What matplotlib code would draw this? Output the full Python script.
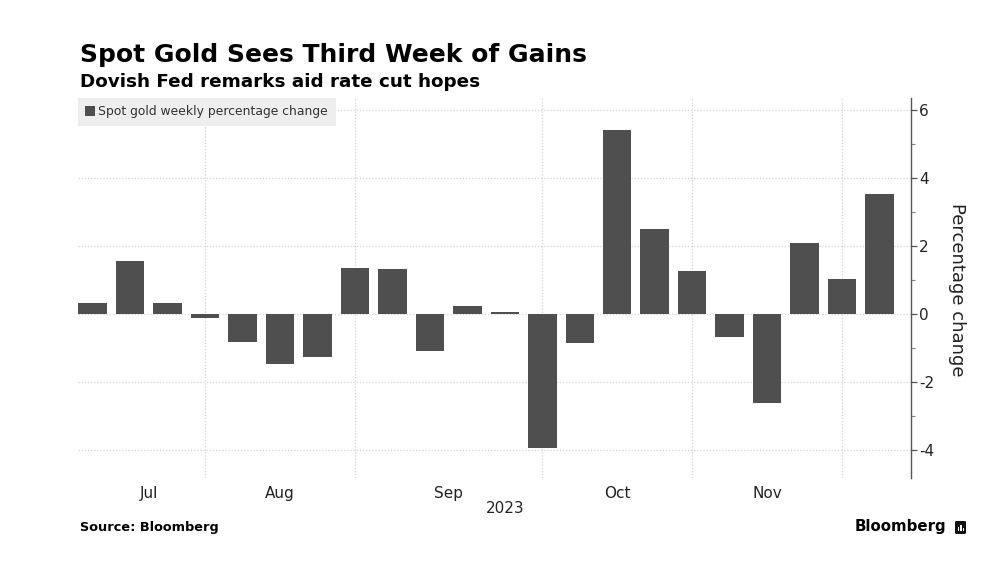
import matplotlib
matplotlib.use("Agg")
import matplotlib.pyplot as plt
from matplotlib.patches import Patch, FancyBboxPatch, Rectangle
from matplotlib.transforms import blended_transform_factory

# ---- data ----
weekly_change = [0.32, 1.56, 0.33, -0.13, -0.82, -1.47, -1.26, 1.35, 1.31, -1.08,
                 0.25, 0.07, -3.93, -0.84, 5.41, 2.50, 1.26, -0.67, -2.62, 2.09,
                 1.03, 3.54]
month_labels = ["Jul", "Aug", "Sep", "Oct", "Nov"]
month_label_pos = [1.5, 5, 9.5, 14, 18]
month_boundaries = [3, 7, 12, 16, 20]
year_label = "2023"
year_label_pos = 11
y_ticks = [-4, -2, 0, 2, 4, 6]
y_minor = [-3, -1, 1, 3, 5]

title = "Spot Gold Sees Third Week of Gains"
subtitle = "Dovish Fed remarks aid rate cut hopes"
legend_label = "Spot gold weekly percentage change"

bar_color = "#4f4f4f"
grid_color = "#d2d2d2"

fig = plt.figure(figsize=(10, 5.7), dpi=100)
ax = fig.add_axes([0.078, 1 - 478 / 570, 0.833, 380 / 570])

x = list(range(len(weekly_change)))
ax.bar(x, weekly_change, width=0.76, color=bar_color, zorder=3)

ax.set_xlim(-0.39, 21.84)
ax.set_ylim(-4.82, 6.35)

# vertical month grid lines
for b in month_boundaries:
    ax.axvline(b, color=grid_color, linestyle=(0, (1, 1.5)), linewidth=0.9, zorder=1)

# y axis on right
ax.yaxis.tick_right()
ax.set_yticks(y_ticks)
ax.set_yticks(y_minor, minor=True)
ax.set_yticklabels([str(v) for v in y_ticks])
ax.tick_params(axis="y", which="major", direction="out", length=4, width=0.9,
               color="#555555", labelsize=11, labelcolor="#222222", pad=2)
ax.tick_params(axis="y", which="minor", direction="out", length=3, width=0.8,
               color="#888888")
ax.grid(axis="y", which="major", color=grid_color, linestyle=(0, (1, 1.5)),
        linewidth=0.9, zorder=0)

ax.set_xticks(month_label_pos)
ax.set_xticklabels(month_labels)
ax.tick_params(axis="x", length=0, labelsize=11, labelcolor="#222222", pad=6)

for s in ["top", "left", "bottom"]:
    ax.spines[s].set_visible(False)
ax.spines["right"].set_color("#555555")
ax.spines["right"].set_linewidth(1.0)

trans = blended_transform_factory(ax.transData, ax.transAxes)
ax.text(year_label_pos, -0.079, year_label, transform=trans, ha="center",
        va="center", fontsize=11, color="#222222")

# legend
handle = Patch(facecolor=bar_color, edgecolor="none")
leg = ax.legend([handle], [legend_label], loc="upper left", bbox_to_anchor=(0, 1),
                borderaxespad=0.0, frameon=True, facecolor="#eeeeee",
                edgecolor="none", fancybox=False, framealpha=1.0,
                handlelength=0.8, handleheight=0.8, handletextpad=0.25,
                borderpad=0.6, fontsize=8.9)
leg.get_frame().set_linewidth(0)
for t in leg.get_texts():
    t.set_color("#333333")

# y label
fig.text(0.957, 1 - 290 / 570, "Percentage change", rotation=270, ha="center",
         va="center", fontsize=13, color="#222222")

# titles
fig.text(0.08, 1 - 55 / 570, title, fontsize=18, fontweight="bold",
         ha="left", va="center", color="#000000")
fig.text(0.08, 1 - 82 / 570, subtitle, fontsize=13.2, fontweight="bold",
         ha="left", va="center", color="#000000")

# footer
fig.text(0.08, 1 - 527 / 570, "Source: Bloomberg", fontsize=9.3, fontweight="bold",
         ha="left", va="center", color="#000000")
fig.text(0.946, 1 - 527 / 570, "Bloomberg", fontsize=10.8, fontweight="bold",
         ha="right", va="center", color="#000000")
icon = FancyBboxPatch((0.955, 1 - 534 / 570), 0.011, 13 / 570,
                      boxstyle="round,pad=0.0,rounding_size=0.002",
                      transform=fig.transFigure, facecolor="#111111",
                      edgecolor="none")
fig.add_artist(icon)
for dx, h in [(0.0578, 0.007), (0.0604, 0.011), (0.063, 0.006)]:
    fig.add_artist(Rectangle((0.9 + dx, 1 - 531 / 570), 0.0013, h,
                             transform=fig.transFigure, facecolor="white",
                             edgecolor="none"))

fig.savefig("out.png", dpi=100, facecolor="white")
